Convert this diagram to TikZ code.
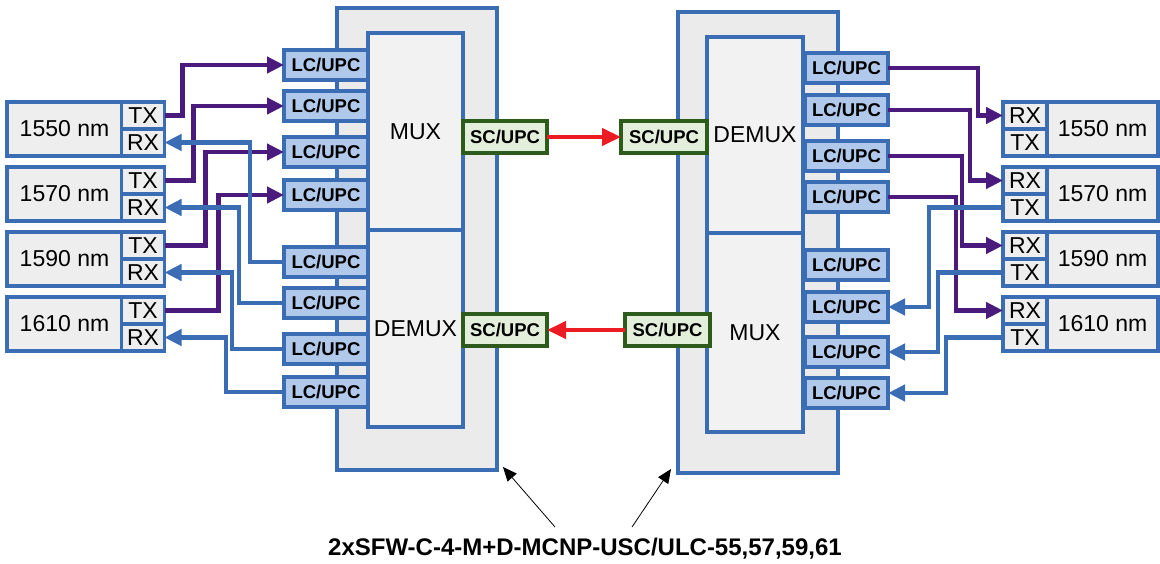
\documentclass[tikz,border=0pt]{standalone}
\usepackage{fontspec}
\setmainfont{Liberation Sans}
\usetikzlibrary{arrows.meta}
\definecolor{bl}{HTML}{3A6DB3}
\definecolor{lcfill}{HTML}{B0C8EA}
\definecolor{pu}{HTML}{4A1B7C}
\definecolor{gr}{HTML}{2C5B1B}
\definecolor{grfill}{HTML}{E3EFDA}
\definecolor{rd}{HTML}{EC1C24}
\definecolor{outerfill}{HTML}{EBEBEB}
\definecolor{innerfill}{HTML}{F2F2F2}
\definecolor{devfill}{HTML}{EEEEEE}
\begin{document}
\begin{tikzpicture}[x=1pt,y=-1pt,
 box/.style={draw=bl, line width=3.3pt, outer sep=0pt, inner sep=0pt},
 outerbox/.style={box, fill=outerfill, minimum width=160pt},
 innerbox/.style={box, fill=innerfill, minimum width=96pt, font=\fontsize{23}{26}\selectfont},
 lc/.style={box, fill=lcfill, minimum width=84pt, minimum height=30pt, font=\bfseries\fontsize{18.5}{20}\selectfont},
 sc/.style={draw=gr, line width=3.3pt, fill=grfill, outer sep=0pt, inner sep=0pt, minimum width=84pt, minimum height=32pt, font=\bfseries\fontsize{18.5}{20}\selectfont},
 dev/.style={box, fill=devfill, minimum height=54pt, font=\fontsize{23}{26}\selectfont},
 cell/.style={box, fill=devfill, minimum width=43pt, minimum height=27pt, font=\fontsize{23}{26}\selectfont},
 pline/.style={draw=pu, line width=4.3pt, -{Triangle[length=17pt,width=16pt]}},
 bline/.style={draw=bl, line width=4.3pt, -{Triangle[length=17pt,width=16pt]}},
 rline/.style={draw=rd, line width=4.5pt, -{Triangle[length=19pt,width=17pt]}},
 kline/.style={draw=black, line width=0.8pt, -{Triangle[length=14pt,width=12pt]}},
]
\useasboundingbox (0,0) rectangle (1160,564);
% ---- main units ----
\node[outerbox, minimum height=462pt] (LO) at (417,239) {};
\node[innerbox, minimum width=95pt, minimum height=197pt] (LMUX) at (415.5,131.5) {MUX};
\node[innerbox, minimum width=95pt, minimum height=197pt] (LDEMUX) at (415.5,328.5) {DEMUX};
\node[outerbox, minimum height=461pt] (RO) at (758,242.5) {};
\node[innerbox, minimum height=196pt] (RDEMUX) at (755,135) {DEMUX};
\node[innerbox, minimum height=199pt] (RMUX) at (755,332.5) {MUX};
% ---- LC connectors ----
\foreach \i/\y in {1/65,2/106,3/152,4/195,5/262,6/303,7/349,8/392}
  \node[lc] (L\i) at (326,\y) {LC/UPC};
\foreach \i/\y in {1/68,2/110,3/156,4/197,5/265,6/307,7/352,8/393}
  \node[lc, minimum width=83pt] (R\i) at (846.5,\y) {LC/UPC};
% ---- SC connectors ----
\node[sc] (SL1) at (505,137) {SC/UPC};
\node[sc] (SL2) at (505,330) {SC/UPC};
\node[sc, minimum width=86pt] (SR1) at (664,137) {SC/UPC};
\node[sc, minimum width=85pt] (SR2) at (667.5,330) {SC/UPC};
% ---- devices ----
\foreach \i/\t/\w in {1/102/1550,2/167/1570,3/232/1590,4/297/1610}{
  \node[dev, minimum width=115pt] (ld\i) at (64.5,\t+27) {\w\ nm};
  \node[cell] (ltx\i) at (143,\t+13.5) {TX};
  \node[cell] (lrx\i) at (143,\t+40.5) {RX};
  \node[dev, minimum width=111pt] (rd\i) at (1102.5,\t+27) {\w\ nm};
  \node[cell, minimum width=44pt] (rrx\i) at (1025,\t+13.5) {RX};
  \node[cell, minimum width=44pt] (rtx\i) at (1025,\t+40.5) {TX};
}
% ---- left fibres ----
\draw[pline] (ltx1.east) -- ++(18,0) |- (L1.west);
\draw[pline] (ltx2.east) -- ++(29,0) |- (L2.west);
\draw[pline] (ltx3.east) -- ++(41,0) |- (L3.west);
\draw[pline] (ltx4.east) -- ++(54,0) |- (L4.west);
\draw[bline] (L5.west) -- ++(-34,0) |- (lrx1.east);
\draw[bline] (L6.west) -- ++(-45,0) |- (lrx2.east);
\draw[bline] (L7.west) -- ++(-52,0) |- (lrx3.east);
\draw[bline] (L8.west) -- ++(-58,0) |- (lrx4.east);
% ---- right fibres ----
\draw[pline] (R1.east) -- ++(90,0) |- (rrx1.west);
\draw[pline] (R2.east) -- ++(82,0) |- (rrx2.west);
\draw[pline] (R3.east) -- ++(74,0) |- (rrx3.west);
\draw[pline] (R4.east) -- ++(68,0) |- (rrx4.west);
\draw[bline] (rtx2.west) -- ++(-74,0) |- (R6.east);
\draw[bline] (rtx3.west) -- ++(-65,0) |- (R7.east);
\draw[bline] (rtx4.west) -- ++(-57,0) |- (R8.east);
% ---- trunk ----
\draw[rline] (SL1.east) -- (SR1.west);
\draw[rline] (SR2.west) -- (SL2.east);
% ---- label ----
\node[font=\bfseries\fontsize{24}{26}\selectfont] (lbl) at (585,549) {2xSFW-C-4-M+D-MCNP-USC/ULC-55,57,59,61};
\coordinate (a1) at (555,527);
\coordinate (a2) at (632,527);
\coordinate (t1) at (503,467);
\coordinate (t2) at (671,469);
\draw[kline] (a1) -- (t1);
\draw[kline] (a2) -- (t2);
\end{tikzpicture}
\end{document}
